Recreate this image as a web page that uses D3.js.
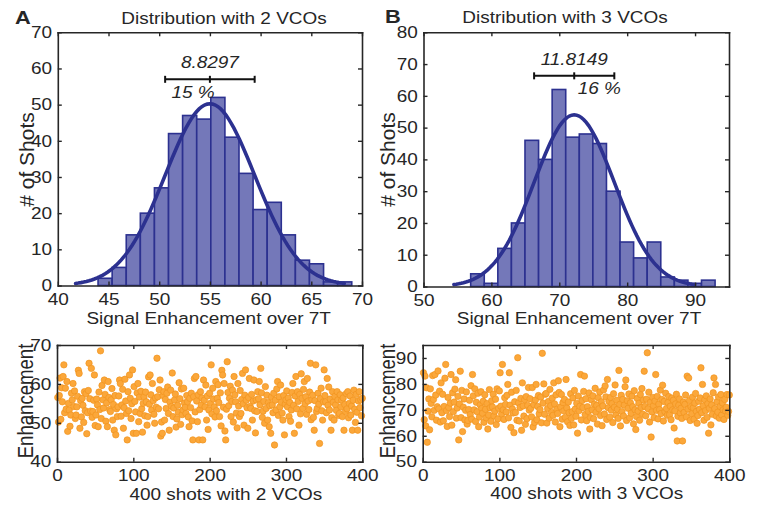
<!DOCTYPE html>
<html>
<head>
<meta charset="utf-8">
<script src="https://cdn.jsdelivr.net/npm/d3@7"></script>
<style>
  body { margin: 0; background: #fff; }
  text { font-family: "Liberation Sans", Arial, Helvetica, sans-serif; fill: #262626; }
</style>
</head>
<body>
<svg id="chart" width="758" height="508"></svg>
<script>
// ---- Histogram of 400 shots, 2 VCOs ----
const histStartA = 43.97;
const binWidthA = 1.39;
const countsA = [2, 5, 14, 20, 27, 42, 47, 46, 52, 41, 31, 21, 23, 14, 7, 6, 1, 1];
const meanA = 55.0;
const spreadA = 8.8297;        // full width of the bar = 2 sigma
const pctA = "15 %";

// ---- Histogram of 400 shots, 3 VCOs ----
const histStartB = 56.95;
const binWidthB = 2.0;
const countsB = [4, 1, 12, 20, 46, 40, 62, 47, 48, 45, 30, 14, 9, 14, 3, 2, 1, 2];
const meanB = 72.2;
const spreadB = 11.8149;
const pctB = "16 %";

// ---- Shot-by-shot enhancement, 2 VCOs ----
const shotsA = [
  56.5, 50.2, 57.0, 61.5, 50.9, 59.0, 55.4, 61.9, 64.9, 52.6, 58.9, 53.5, 60.6, 47.8, 55.0, 53.3, 49.1, 52.0, 57.6, 55.9,
  60.1, 54.2, 58.2, 51.1, 52.0, 54.1, 56.8, 63.5, 62.7, 48.6, 55.7, 51.5, 56.3, 54.5, 50.1, 58.0, 53.1, 57.5, 47.2, 52.6,
  58.3, 65.3, 56.2, 53.0, 64.0, 51.4, 52.9, 55.8, 62.3, 49.3, 52.0, 56.1, 54.6, 49.0, 57.9, 53.4, 68.5, 51.1, 59.6, 55.9,
  53.8, 61.0, 57.3, 50.4, 55.1, 49.0, 60.6, 56.5, 53.4, 52.9, 55.9, 58.8, 50.7, 54.7, 48.1, 57.0, 46.9, 53.6, 51.6, 54.1,
  56.9, 61.0, 60.1, 51.7, 54.6, 58.6, 48.6, 53.9, 61.2, 55.6, 52.4, 45.6, 58.0, 53.1, 62.3, 56.3, 51.1, 54.9, 63.6, 47.3,
  59.3, 55.5, 52.8, 47.3, 57.7, 60.1, 50.3, 56.6, 52.4, 58.1, 53.6, 47.6, 55.0, 56.7, 51.8, 57.9, 55.4, 49.4, 51.6, 61.8,
  54.8, 62.3, 57.2, 53.3, 60.1, 55.7, 52.2, 49.9, 56.4, 54.0, 66.6, 56.7, 53.6, 58.5, 61.0, 46.6, 50.2, 47.3, 57.0, 58.0,
  50.7, 56.0, 53.7, 57.6, 59.2, 52.4, 48.1, 55.3, 58.4, 54.2, 62.8, 51.6, 53.8, 55.9, 57.4, 48.9, 51.0, 54.5, 52.7, 60.3,
  56.2, 49.6, 58.7, 52.1, 53.3, 58.9, 55.1, 54.0, 52.4, 57.0, 55.4, 51.5, 49.0, 56.3, 53.9, 57.6, 50.5, 45.6, 56.7, 61.4,
  52.8, 61.9, 55.6, 50.3, 57.2, 45.6, 53.4, 58.0, 54.6, 56.4, 45.6, 61.0, 55.8, 54.1, 59.7, 50.7, 56.9, 48.3, 53.3, 57.6,
  55.0, 64.9, 52.3, 58.9, 56.1, 54.1, 51.5, 60.6, 53.1, 56.3, 59.8, 55.2, 51.6, 57.7, 49.2, 63.5, 62.3, 54.0, 60.1, 47.9,
  45.6, 53.5, 65.7, 57.8, 54.4, 56.3, 59.4, 51.6, 55.5, 58.4, 50.2, 61.9, 57.2, 55.4, 52.5, 48.7, 60.1, 54.3, 51.6, 58.3,
  52.4, 56.0, 62.7, 54.9, 49.4, 57.1, 63.6, 55.8, 53.9, 48.6, 56.5, 61.4, 54.2, 53.7, 57.3, 50.7, 55.6, 61.0, 53.1, 47.4,
  55.9, 52.9, 58.0, 56.2, 60.6, 54.6, 64.0, 57.7, 51.4, 53.0, 55.5, 49.9, 59.3, 53.7, 57.1, 50.7, 55.2, 49.0, 54.4, 47.3,
  56.6, 54.6, 52.6, 57.6, 44.3, 55.8, 53.3, 58.7, 60.6, 51.9, 56.7, 54.1, 59.7, 55.3, 52.5, 50.7, 57.0, 46.9, 54.8, 55.9,
  58.2, 54.1, 56.4, 51.6, 55.2, 50.4, 53.3, 57.8, 60.1, 54.5, 47.3, 56.9, 61.9, 53.6, 58.0, 55.5, 49.4, 57.3, 52.3, 62.6,
  56.3, 53.7, 58.6, 60.6, 54.9, 56.7, 52.2, 61.4, 55.6, 53.4, 57.9, 65.3, 50.8, 56.0, 57.1, 51.4, 48.1, 55.7, 64.9, 52.9,
  53.7, 57.6, 54.8, 44.7, 56.2, 58.9, 53.1, 50.7, 55.4, 63.6, 57.0, 55.4, 52.6, 61.4, 54.5, 59.2, 53.3, 56.1, 48.1, 51.3,
  58.0, 55.3, 50.7, 56.8, 54.6, 53.2, 58.0, 55.9, 51.9, 52.4, 57.2, 54.1, 55.8, 51.6, 56.4, 48.1, 54.7, 52.9, 57.5, 53.6,
  58.0, 51.3, 55.0, 56.9, 52.0, 54.3, 48.1, 55.8, 58.4, 53.5, 50.1, 57.3, 52.7, 48.1, 55.6, 58.0, 53.9, 55.9, 51.8, 56.3
];

// ---- Shot-by-shot enhancement, 3 VCOs ----
const shotsB = [
  84.3, 66.2, 83.0, 63.8, 78.5, 57.5, 69.5, 74.2, 62.3, 78.1, 72.5, 67.3, 83.2, 74.0, 69.8, 83.6, 75.7, 66.0, 71.2, 85.0,
  70.4, 77.2, 65.3, 80.4, 68.9, 76.0, 65.8, 71.3, 82.2, 87.5, 69.7, 63.6, 74.8, 70.9, 67.4, 72.6, 83.6, 64.1, 76.6, 69.3,
  73.0, 78.0, 81.6, 66.8, 70.7, 75.2, 58.4, 72.3, 84.9, 67.0, 77.5, 61.6, 71.0, 74.2, 66.1, 69.8, 76.9, 64.5, 65.9, 70.1,
  73.7, 68.2, 79.3, 66.4, 83.6, 75.4, 70.0, 78.1, 65.5, 72.9, 69.3, 76.4, 63.5, 67.2, 71.9, 77.0, 70.5, 68.7, 73.3, 65.2,
  75.8, 70.2, 66.9, 72.4, 62.6, 68.0, 77.8, 70.8, 65.6, 73.5, 71.1, 76.0, 67.7, 69.5, 74.1, 64.3, 78.1, 66.5, 70.6, 77.3,
  84.3, 71.4, 68.4, 87.5, 70.0, 66.3, 74.7, 72.1, 69.2, 75.6, 79.8, 66.9, 84.3, 71.8, 63.2, 76.8, 70.3, 68.8, 61.2, 73.1,
  69.0, 77.5, 66.0, 90.1, 72.7, 65.7, 70.9, 74.4, 62.1, 80.4, 71.5, 67.6, 73.9, 64.4, 75.1, 66.6, 71.7, 78.6, 69.9, 74.3,
  70.6, 67.3, 78.6, 63.4, 72.0, 65.1, 73.8, 79.8, 66.2, 71.3, 75.5, 68.5, 70.1, 74.9, 65.0, 91.8, 72.6, 80.0, 68.3, 76.0,
  76.3, 64.9, 70.5, 73.2, 66.8, 77.9, 71.6, 69.0, 74.5, 67.9, 80.4, 72.3, 65.3, 75.8, 70.2, 68.6, 81.2, 76.7, 63.5, 71.1,
  75.9, 66.4, 72.8, 69.6, 74.0, 67.1, 81.7, 70.7, 65.4, 73.0, 68.9, 64.0, 76.2, 66.7, 69.3, 74.6, 64.2, 77.5, 70.3, 67.5,
  72.5, 61.0, 75.3, 69.7, 71.4, 83.6, 66.1, 73.6, 70.9, 77.1, 83.0, 68.2, 74.3, 65.8, 71.2, 69.4, 76.5, 62.6, 67.0, 73.9,
  70.0, 75.4, 66.6, 72.2, 78.3, 69.1, 71.7, 64.5, 74.7, 70.4, 76.9, 67.8, 73.1, 63.9, 71.5, 77.7, 68.4, 79.2, 75.0, 66.3,
  81.7, 70.8, 73.3, 67.2, 74.8, 69.9, 72.4, 65.1, 76.2, 71.0, 79.6, 68.0, 73.7, 70.2, 66.7, 85.2, 72.1, 63.8, 75.6, 69.3,
  74.0, 67.6, 71.8, 78.9, 81.5, 65.9, 73.5, 70.6, 76.1, 66.9, 72.7, 68.7, 75.3, 71.2, 64.6, 77.4, 70.0, 62.4, 67.4, 74.4,
  69.5, 72.5, 66.0, 75.9, 70.9, 78.2, 68.3, 73.8, 84.9, 71.3, 67.7, 74.1, 92.0, 70.4, 76.8, 65.3, 72.9, 59.5, 69.2, 74.8,
  71.6, 67.0, 73.4, 83.6, 69.8, 75.2, 66.5, 72.2, 70.1, 77.6, 68.6, 74.0, 79.5, 65.7, 73.2, 69.3, 76.4, 70.5, 67.9, 72.8,
  75.1, 68.1, 71.4, 66.2, 74.5, 70.0, 73.7, 63.0, 69.6, 72.3, 76.0, 58.0, 67.5, 71.8, 74.2, 68.8, 70.6, 66.7, 58.0, 73.0,
  69.0, 72.1, 75.7, 67.3, 83.0, 70.3, 82.3, 73.6, 65.9, 71.2, 68.5, 74.9, 70.8, 66.4, 72.6, 76.3, 69.4, 64.8, 67.8, 73.3,
  70.2, 74.6, 86.2, 68.9, 79.8, 71.5, 66.0, 73.9, 69.7, 75.4, 67.1, 72.4, 61.0, 70.6, 74.2, 64.2, 71.9, 68.3, 76.6, 82.3,
  70.5, 79.8, 67.6, 73.1, 69.1, 75.0, 66.8, 71.3, 75.9, 68.0, 72.7, 70.0, 66.3, 74.0, 69.6, 71.0, 75.9, 67.9, 69.4, 75.7
];

// ---- Axis ticks ----
const histTicksXA = [40, 45, 50, 55, 60, 65, 70];
const histTicksYA = [0, 10, 20, 30, 40, 50, 60, 70];
const histTicksXB = [50, 60, 70, 80, 90];
const histTicksYB = [0, 10, 20, 30, 40, 50, 60, 70, 80];
const shotTicksX = [0, 100, 200, 300, 400];
const shotTicksYA = [40, 50, 60, 70];
const shotTicksYB = [50, 60, 70, 80, 90];

// ---- Styling ----
const SX = 1.15;          // horizontal stretch of glyphs
const FS = 16.5;
const INK = "#262626";
const BAR_FILL = "#7478b9";
const BAR_EDGE = "#2c3190";
const DOT_FILL = "#fba73a";
const DOT_EDGE = "#f1931e";

const svg = d3.select("#chart");

function label(str, x, y, o = {}) {
  const sx = o.sx || SX;
  const t = svg.append("text")
    .attr("transform", `translate(${x},${y}) scale(${sx},1)` + (o.rotate ? ` rotate(${o.rotate})` : ""))
    .attr("text-anchor", o.anchor || "middle")
    .style("font-size", (o.size || FS) + "px")
    .text(str);
  if (o.bold) t.style("font-weight", "bold");
  if (o.italic) t.style("font-style", "italic");
  if (o.dy) t.attr("dy", o.dy);
  return t;
}

function styleAxis(sel) {
  sel.attr("font-family", null).attr("font-size", null);
  sel.select(".domain").attr("stroke", INK).attr("stroke-width", 1.6).attr("stroke-linecap", "square");
  sel.selectAll(".tick line").attr("stroke", INK).attr("stroke-width", 1.4);
  sel.selectAll(".tick text")
    .style("font-size", FS + "px")
    .attr("fill", INK)
    .attr("transform", `scale(${SX},1)`);
}

function box(x, y, xt, yt) {
  const [yb, yt0] = y.range();
  const [xl, xr] = x.range();
  const g = svg.append("g");
  g.append("g").attr("transform", `translate(0,${yb})`)
    .call(d3.axisBottom(x).tickValues(xt).tickSizeInner(-4).tickSizeOuter(0).tickPadding(8)).call(styleAxis);
  g.append("g").attr("transform", `translate(0,${yt0})`)
    .call(d3.axisTop(x).tickValues(xt).tickSizeInner(-4).tickSizeOuter(0).tickFormat("")).call(styleAxis);
  g.append("g").attr("transform", `translate(${xl},0)`)
    .call(d3.axisLeft(y).tickValues(yt).tickSizeInner(-4).tickSizeOuter(0).tickPadding(5)).call(styleAxis);
  g.append("g").attr("transform", `translate(${xr},0)`)
    .call(d3.axisRight(y).tickValues(yt).tickSizeInner(-4).tickSizeOuter(0).tickFormat("")).call(styleAxis);
}

function histogram(x, y, start, width, counts, mean, spread, pct, barY, pctDx, ticksX, ticksY) {
  const bins = counts.map((c, i) => ({ x0: start + i * width, x1: start + (i + 1) * width, n: c }));
  svg.append("g").selectAll("rect").data(bins).join("rect")
    .attr("x", d => x(d.x0))
    .attr("width", d => x(d.x1) - x(d.x0))
    .attr("y", d => y(d.n))
    .attr("height", d => y(0) - y(d.n))
    .attr("fill", BAR_FILL)
    .attr("stroke", BAR_EDGE)
    .attr("stroke-width", 1.6);

  // fitted normal density scaled to counts, over mean +/- 3 sigma
  const sigma = spread / 2;
  const total = d3.sum(counts);
  const xs = d3.range(0, 101).map(k => mean - 3 * sigma + k * 6 * sigma / 100);
  const fit = xs.map(v => [v, total * width * Math.exp(-0.5 * ((v - mean) / sigma) ** 2) / (sigma * Math.sqrt(2 * Math.PI))]);
  svg.append("path")
    .datum(fit)
    .attr("fill", "none")
    .attr("stroke", BAR_EDGE)
    .attr("stroke-width", 3.6)
    .attr("stroke-linecap", "round")
    .attr("d", d3.line().x(d => x(d[0])).y(d => y(d[1])));

  // +/- sigma marker with its labels
  const eb = svg.append("g").attr("stroke", "#111").attr("stroke-width", 2);
  const yy = y(barY);
  eb.append("line").attr("x1", x(mean - sigma)).attr("x2", x(mean + sigma)).attr("y1", yy).attr("y2", yy);
  [mean - sigma, mean, mean + sigma].forEach(v => {
    eb.append("line").attr("x1", x(v)).attr("x2", x(v)).attr("y1", yy - 3.5).attr("y2", yy + 3.5);
  });
  label(spread.toFixed(4), x(mean), yy - 11, { italic: true });
  label(pct, x(mean) + pctDx, yy + 18.5, { italic: true, anchor: "start" });
  box(x, y, ticksX, ticksY);
}

function shots(x, y, values, ticksX, ticksY) {
  svg.append("g").selectAll("circle").data(values).join("circle")
    .attr("cx", (d, i) => x(i + 1))
    .attr("cy", d => y(d))
    .attr("r", 3.2)
    .attr("fill", DOT_FILL)
    .attr("stroke", DOT_EDGE)
    .attr("stroke-width", 0.7);
  box(x, y, ticksX, ticksY);
}

// ---- Panel A: histogram ----
const xHA = d3.scaleLinear().domain([40, 70]).range([57.8, 362]);
const yHA = d3.scaleLinear().domain([0, 70]).range([285.5, 32.3]);
histogram(xHA, yHA, histStartA, binWidthA, countsA, meanA, spreadA, pctA, 57, -38.5, histTicksXA, histTicksYA);

// ---- Panel B: histogram ----
const xHB = d3.scaleLinear().domain([50, 95]).range([423.5, 729]);
const yHB = d3.scaleLinear().domain([0, 80]).range([286.5, 32.3]);
histogram(xHB, yHB, histStartB, binWidthB, countsB, meanB, spreadB, pctB, 66.3, 3.5, histTicksXB, histTicksYB);

// ---- Shot series ----
const xSA = d3.scaleLinear().domain([0, 400]).range([57, 362.3]);
const ySA = d3.scaleLinear().domain([40, 70]).range([461.7, 345]);
shots(xSA, ySA, shotsA, shotTicksX, shotTicksYA);

const xSB = d3.scaleLinear().domain([0, 400]).range([422.7, 729.3]);
const ySB = d3.scaleLinear().domain([50, 95]).range([461.7, 345]);
shots(xSB, ySB, shotsB, shotTicksX, shotTicksYB);

// ---- Titles, panel letters and axis labels ----
label("A", 15, 24, { bold: true, size: 19, anchor: "start" });
label("B", 385, 22.7, { bold: true, size: 19, anchor: "start" });
label("Distribution with 2 VCOs", 224, 24);
label("Distribution with 3 VCOs", 565, 22.7);

label("Signal Enhancement over 7T", 208.7, 323.5);
label("Signal Enhancement over 7T", 579, 323.5);
label("400 shots with 2 VCOs", 225.8, 500);
label("400 shots with 3 VCOs", 586.7, 499);

label("# of Shots", 26, 159.5, { rotate: -90, dy: "0.36em", size: 21, sx: 1.0 });
label("# of Shots", 387, 159.5, { rotate: -90, dy: "0.36em", size: 21, sx: 1.0 });
label("Enhancement", 25, 401, { rotate: -90, dy: "0.36em", size: 18.6 });
label("Enhancement", 387, 401, { rotate: -90, dy: "0.36em", size: 18.6 });
</script>
</body>
</html>
